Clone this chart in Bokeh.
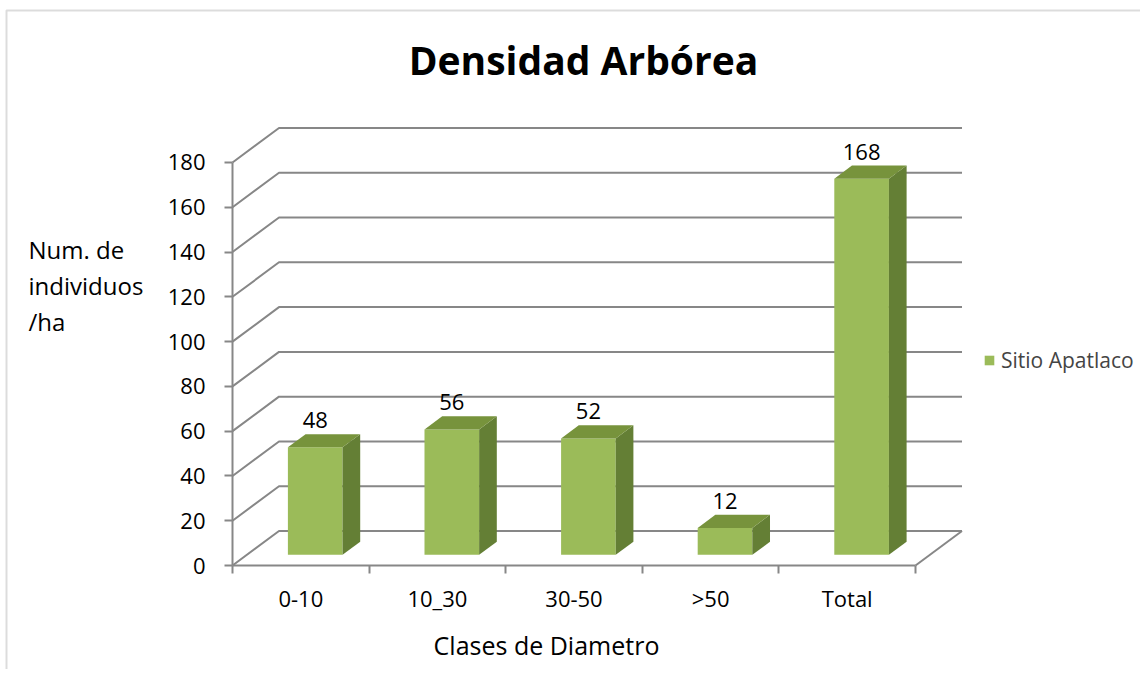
from bokeh.plotting import figure
from bokeh.models import Range1d, FixedTicker, Label, Legend, LegendItem, BoxAnnotation, ColumnDataSource
from bokeh.core.properties import value
from bokeh.embed import file_html
from bokeh.resources import INLINE

# ---- data ----
categories = ["0-10", "10_30", "30-50", ">50", "Total"]
densities = [48, 56, 52, 12, 168]
y_ticks = [0, 20, 40, 60, 80, 100, 120, 140, 160, 180]
series_name = "Sitio Apatlaco"
title_text = "Densidad Arbórea"
y_title_lines = ["Num. de", "individuos", "/ha"]
x_title = "Clases de Diametro"

# ---- layout / style ----
FONT = "Open Sans"
GRID = "#878787"
FRONT = "#9BBB59"
TOP = "#77933C"
SIDE = "#647F35"

W, H = 1140, 669
X0, Y0 = 232, 565            # canvas position of the data origin
PX_PER_CAT = 136.6
PX_PER_UNIT = 2.239
DX = 46.5 / PX_PER_CAT       # depth offset (category units)
DY = 34.5 / PX_PER_UNIT      # depth offset (value units)
F0, F1 = 0.31, 0.69          # bar depth band
BW = 0.40                    # bar width
n = len(categories)

p = figure(width=W, height=H,
           x_range=Range1d(-X0 / PX_PER_CAT, (W - X0) / PX_PER_CAT),
           y_range=Range1d(-(H - Y0) / PX_PER_UNIT, Y0 / PX_PER_UNIT),
           output_backend="svg", toolbar_location=None,
           min_border=0, min_border_left=0, min_border_right=0,
           min_border_top=0, min_border_bottom=0)
p.grid.visible = False
p.outline_line_color = None
p.background_fill_color = "white"
p.border_fill_color = "white"

# back wall gridlines (with slanted left part) and right floor edge
gx, gy = [], []
for v in y_ticks:
    gx.append([0, DX, n + DX])
    gy.append([v, v + DY, v + DY])
gx.append([n, n + DX])
gy.append([0, DY])
p.multi_line(gx, gy, line_color=GRID, line_width=2)

# bars
lefts = [i + 0.5 - BW / 2 for i in range(n)]
rights = [i + 0.5 + BW / 2 for i in range(n)]
front = p.quad(left=[l + F0 * DX for l in lefts], right=[r + F0 * DX for r in rights],
               bottom=[F0 * DY] * n, top=[v + F0 * DY for v in densities],
               fill_color=FRONT, line_color=None)
side_xs, side_ys, top_xs, top_ys = [], [], [], []
for l, r, v in zip(lefts, rights, densities):
    side_xs.append([r + F0 * DX, r + F1 * DX, r + F1 * DX, r + F0 * DX])
    side_ys.append([F0 * DY, F1 * DY, v + F1 * DY, v + F0 * DY])
    top_xs.append([l + F0 * DX, r + F0 * DX, r + F1 * DX, l + F1 * DX])
    top_ys.append([v + F0 * DY, v + F0 * DY, v + F1 * DY, v + F1 * DY])
p.patches(side_xs, side_ys, fill_color=SIDE, line_color=None)
p.patches(top_xs, top_ys, fill_color=TOP, line_color=None)

# value labels
src = ColumnDataSource(dict(x=[i + 0.5 + F0 * DX for i in range(n)],
                            y=[v + F1 * DY for v in densities],
                            t=[str(v) for v in densities]))
p.text(x="x", y="y", text="t", source=src, text_align="center", text_baseline="alphabetic",
       y_offset=-14, text_font=value(FONT), text_font_size="22px", text_color="black")

# y axis
ya = p.yaxis[0]
ya.fixed_location = 0
ya.ticker = FixedTicker(ticks=y_ticks, minor_ticks=[])
ya.bounds = (0, 180)
ya.axis_line_color = GRID
ya.axis_line_width = 2
ya.major_tick_line_color = GRID
ya.major_tick_line_width = 2
ya.major_tick_out = 8
ya.major_tick_in = 0
ya.major_label_standoff = 19
ya.major_label_text_font = FONT
ya.major_label_text_font_size = "22px"
ya.major_label_text_color = "black"

# x axis
xa = p.xaxis[0]
xa.fixed_location = 0
centers = [i + 0.5 for i in range(n)]
xa.ticker = FixedTicker(ticks=centers, minor_ticks=list(range(n + 1)))
xa.major_label_overrides = {c: lab for c, lab in zip(centers, categories)}
xa.bounds = (0, n)
xa.axis_line_color = GRID
xa.axis_line_width = 2
xa.major_tick_line_color = None
xa.major_tick_out = 0
xa.major_tick_in = 0
xa.minor_tick_line_color = GRID
xa.minor_tick_line_width = 2
xa.minor_tick_out = 8
xa.minor_tick_in = 0
xa.major_label_standoff = 9
xa.major_label_text_font = FONT
xa.major_label_text_font_size = "22px"
xa.major_label_text_color = "black"

# x title
p.add_layout(Label(x=546, y=H - 644, x_units="screen", y_units="screen",
                   text=x_title, text_align="center", text_baseline="alphabetic",
                   text_font=FONT, text_font_size="25px", text_color="black"))

# title
p.add_layout(Label(x=583, y=H - 59, x_units="screen", y_units="screen",
                   text=title_text, text_align="center", text_baseline="alphabetic",
                   text_font=FONT, text_font_size="39px", text_font_style="bold",
                   text_color="black"))

# y title (three lines)
for k, line in enumerate(y_title_lines):
    c = 249 + 36 * k
    p.add_layout(Label(x=28, y=H - c, x_units="screen", y_units="screen",
                       text=line, text_align="left", text_baseline="alphabetic",
                       text_font=FONT, text_font_size="24px", text_color="black"))

# legend
legend = Legend(items=[LegendItem(label=series_name, renderers=[front])],
                location=(983, H - 374),
                glyph_width=12, glyph_height=12, label_standoff=6,
                label_text_font=FONT, label_text_font_size="21px",
                padding=0, margin=0, background_fill_alpha=0, border_line_color=None)
p.add_layout(legend)

# outer border (top and left edges visible)
p.add_layout(BoxAnnotation(left=6, right=W + 50, top=H - 10, bottom=-300,
                           left_units="screen", right_units="screen",
                           top_units="screen", bottom_units="screen",
                           fill_alpha=0, line_color="#8c8c8c", line_width=2))

open("out.html", "w").write(file_html(p, INLINE))
